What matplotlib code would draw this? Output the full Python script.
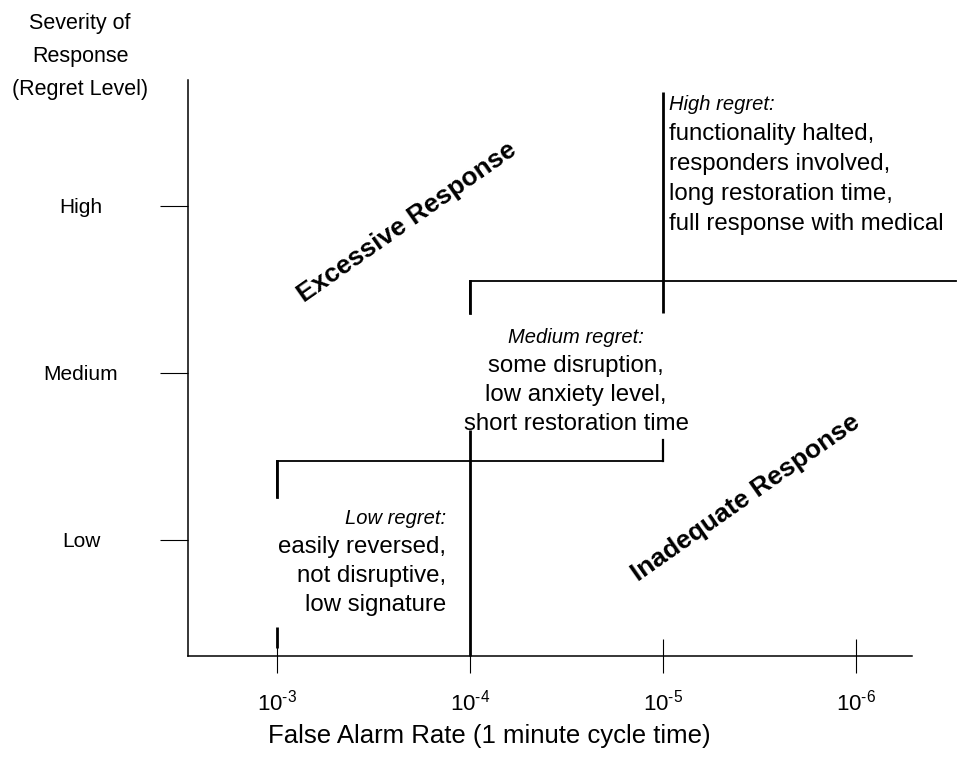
import matplotlib
matplotlib.use("Agg")
import matplotlib.pyplot as plt

plt.rcParams['font.family'] = ['Liberation Sans', 'DejaVu Sans']
plt.rcParams['mathtext.fontset'] = 'custom'
plt.rcParams['mathtext.rm'] = 'Liberation Sans'
plt.rcParams['mathtext.it'] = 'Liberation Sans:italic'
plt.rcParams['mathtext.bf'] = 'Liberation Sans:bold'

# ---- data ----
level_names = ["Low", "Medium", "High"]
level_values = [1, 2, 3]
rate_exponents = [3, 4, 5, 6]          # false alarm rate = 10^-n
rate_labels = [r"$\mathregular{10^{\text{-}3}}$", r"$\mathregular{10^{\text{-}4}}$",
               r"$\mathregular{10^{\text{-}5}}$", r"$\mathregular{10^{\text{-}6}}$"]

# bracket (threshold) outlines, in (exponent, level) units
low_bracket_x = [3, 3, 5, 5]
low_bracket_y = [1.26, 1.47, 1.47, 1.60]
medium_bracket_x = [4, 4, 6.52]
medium_bracket_y = [2.36, 2.55, 2.55]
# heavy dividers
divider_x = [3, 4, 5]
divider_lo = [0.35, 0.305, 2.36]
divider_hi = [0.48, 1.66, 3.68]

high_text = ["High regret:", "functionality halted,", "responders involved,",
             "long restoration time,", "full response with medical"]
medium_text = ["Medium regret:", "some disruption,", "low anxiety level,",
               "short restoration time"]
low_text = ["Low regret:", "easily reversed,", "not disruptive,", "low signature"]

W, H = 972, 769
fig = plt.figure(figsize=(W / 100, H / 100), dpi=100)
L, R, B, T = 188, 912, 656, 80
ax = fig.add_axes([L / W, 1 - B / H, (R - L) / W, (B - T) / H])

ax.set_xlim(2.537, 6.290)
ax.set_ylim(0.305, 3.754)
for s in ["top", "right"]:
    ax.spines[s].set_visible(False)
for s in ["left", "bottom"]:
    ax.spines[s].set_linewidth(1.1)
    ax.spines[s].set_color("black")

ax.set_xticks(rate_exponents)
ax.set_xticklabels(rate_labels, fontsize=16)
ax.tick_params(axis="x", direction="inout", length=24, width=0.8, pad=12.5)
ax.set_yticks(level_values)
ax.set_yticklabels(level_names, fontsize=15)
ax.tick_params(axis="y", direction="out", length=20, width=0.8, pad=57)
for lab in ax.get_yticklabels():
    lab.set_horizontalalignment("center")

ax.set_xlabel("False Alarm Rate (1 minute cycle time)", fontsize=18.5, va="center")
ax.xaxis.set_label_coords((489 - L) / (R - L), (B - 736) / (B - T))

for i, line in enumerate(["Severity of", "Response", "(Regret Level)"]):
    fig.text(80 / W, 1 - (29 + 33 * i) / H, line, fontsize=15.5,
             ha="center", va="baseline")

# brackets
ax.plot(low_bracket_x, low_bracket_y, color="black", lw=1.3, clip_on=False,
        solid_joinstyle="miter")
ax.plot(medium_bracket_x, medium_bracket_y, color="black", lw=1.3, clip_on=False,
        solid_joinstyle="miter")
ax.vlines(divider_x, divider_lo, divider_hi, color="black", lw=2.0, clip_on=False)
ax.plot(low_bracket_x[:2], low_bracket_y[:2], color="black", lw=2.0)
ax.plot(medium_bracket_x[:2], medium_bracket_y[:2], color="black", lw=2.0)
ax.plot(low_bracket_x[2:], low_bracket_y[2:], color="black", lw=1.6)

def blk(lines, xpx, ypx, ha, pitch):
    for i, line in enumerate(lines):
        ax.text(xpx / W, 1 - (ypx + i * pitch) / H, line,
                fontsize=14.5 if i == 0 else 17.3,
                style="italic" if i == 0 else "normal", ha=ha, va="baseline",
                transform=fig.transFigure)

blk(high_text, 669, 110, "left", 30)
blk(medium_text, 576, 343, "center", 29)
blk(low_text, 446, 524, "right", 29)

ax.text(3.67, 2.904, "Excessive Response", fontsize=19, fontweight="bold",
        rotation=35, ha="center", va="center", rotation_mode="anchor")
ax.text(5.43, 1.25, "Inadequate Response", fontsize=19, fontweight="bold",
        rotation=35, ha="center", va="center", rotation_mode="anchor")

fig.savefig("out.png", dpi=100)
